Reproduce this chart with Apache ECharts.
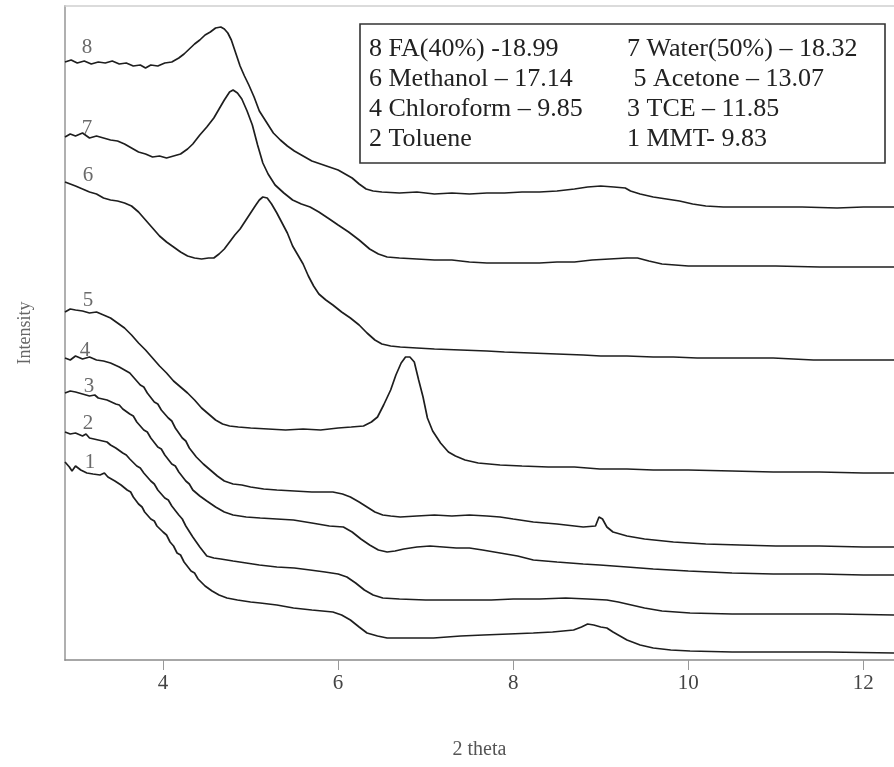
<!DOCTYPE html>
<html>
<head>
<meta charset="utf-8">
<script src="https://cdn.jsdelivr.net/npm/echarts@6/dist/echarts.min.js"></script>
<style>
  html, body { margin: 0; padding: 0; background: #fff; }
  #chart { width: 894px; height: 767px; }
</style>
</head>
<body>
<div id="chart"></div>
<script>
// XRD patterns of MMT treated with different solvents, stacked with vertical offsets.
// Each series: [2θ (deg), intensity (a.u., offset applied)]
const mmt = [[2.88,198],[2.93,193],[2.96,189],[3.0,194],[3.06,190],[3.13,187],[3.2,186],[3.28,185],[3.33,187],[3.37,183],[3.45,179],[3.52,175],[3.59,170],[3.63,168],[3.66,163],[3.72,156],[3.76,153],[3.79,148],[3.86,141],[3.9,139],[3.93,134],[4.0,128],[4.04,125],[4.08,118],[4.12,114],[4.16,107],[4.2,105],[4.24,98],[4.32,89],[4.36,87],[4.4,81],[4.48,74],[4.56,69],[4.64,65],[4.73,62],[4.85,60],[5.0,58],[5.11,57],[5.3,55],[5.49,52],[5.7,50],[5.94,48],[6.04,45],[6.14,40],[6.24,33],[6.33,27],[6.45,24],[6.56,22],[6.8,22],[7.09,22],[7.4,24],[7.66,25],[7.95,26],[8.23,27],[8.45,28],[8.69,30],[8.78,33],[8.85,36],[8.92,35],[9.0,33],[9.07,32],[9.14,28],[9.22,24],[9.3,20],[9.45,15],[9.6,12],[9.8,10],[10.02,9],[10.5,8],[10.97,8],[11.6,8],[12.35,7]];

const toluene = [[2.88,228],[2.94,226],[3.0,227],[3.08,224],[3.12,226],[3.16,222],[3.26,220],[3.36,218],[3.4,215],[3.46,212],[3.54,207],[3.58,205],[3.62,201],[3.7,194],[3.74,192],[3.78,187],[3.86,179],[3.9,176],[3.94,170],[4.02,162],[4.06,160],[4.1,154],[4.18,145],[4.22,141],[4.26,134],[4.34,123],[4.42,113],[4.5,104],[4.58,102],[4.66,101],[4.8,99],[4.95,97],[5.1,95],[5.3,93],[5.5,92],[5.68,90],[5.85,88],[6.0,86],[6.1,83],[6.2,77],[6.3,70],[6.4,65],[6.51,62],[6.7,61],[7.0,60],[7.25,60],[7.47,60],[7.75,60],[8.0,61],[8.3,61],[8.6,62],[8.85,61],[9.07,60],[9.2,58],[9.35,55],[9.5,52],[9.7,49],[10.02,47],[10.5,46],[11.17,46],[11.7,46],[12.35,45]];

const tce = [[2.88,267],[2.94,269],[3.0,268],[3.08,266],[3.16,264],[3.22,265],[3.26,262],[3.36,260],[3.46,256],[3.5,255],[3.54,251],[3.62,246],[3.66,244],[3.7,238],[3.78,230],[3.82,228],[3.86,222],[3.94,213],[3.98,211],[4.02,205],[4.1,196],[4.14,194],[4.18,188],[4.26,179],[4.3,176],[4.34,170],[4.42,164],[4.5,159],[4.6,153],[4.7,148],[4.8,145],[4.95,143],[5.11,142],[5.3,141],[5.49,140],[5.7,137],[5.9,134],[6.06,133],[6.16,128],[6.26,121],[6.36,115],[6.46,110],[6.56,108],[6.65,109],[6.75,111],[6.9,113],[7.05,114],[7.2,113],[7.35,112],[7.5,112],[7.65,110],[7.85,107],[8.05,104],[8.23,100],[8.5,98],[8.8,96],[8.99,95],[9.3,93],[9.6,91],[10.0,89],[10.5,87],[10.97,86],[11.5,86],[12.0,85],[12.35,85]];

const chloroform = [[2.88,302],[2.94,300],[3.0,304],[3.08,301],[3.16,303],[3.24,300],[3.32,299],[3.4,297],[3.5,293],[3.58,289],[3.62,287],[3.66,283],[3.74,275],[3.78,273],[3.82,267],[3.9,258],[3.94,256],[3.98,250],[4.06,242],[4.1,239],[4.14,232],[4.22,222],[4.26,219],[4.3,212],[4.38,203],[4.46,196],[4.54,190],[4.62,184],[4.7,179],[4.8,176],[4.9,175],[5.0,173],[5.15,171],[5.3,170],[5.5,169],[5.7,168],[5.94,168],[6.05,166],[6.14,163],[6.24,158],[6.33,153],[6.42,148],[6.51,145],[6.6,144],[6.71,143],[6.9,144],[7.1,145],[7.3,144],[7.5,145],[7.7,144],[7.85,143],[8.0,141],[8.23,138],[8.5,136],[8.8,133],[8.94,134],[8.98,143],[9.02,141],[9.07,133],[9.14,128],[9.3,124],[9.5,121],[9.83,118],[10.2,116],[10.59,115],[11.0,114],[11.5,114],[12.0,113],[12.35,113]];

const acetone = [[2.88,348],[2.94,351],[3.0,350],[3.08,349],[3.16,347],[3.24,348],[3.32,345],[3.4,342],[3.48,337],[3.56,332],[3.64,325],[3.72,317],[3.8,310],[3.88,302],[3.96,294],[4.04,287],[4.12,279],[4.2,273],[4.28,267],[4.36,260],[4.44,252],[4.52,246],[4.6,240],[4.68,236],[4.76,234],[4.86,233],[5.0,232],[5.2,231],[5.4,230],[5.6,231],[5.8,230],[6.0,232],[6.15,233],[6.29,234],[6.38,238],[6.45,243],[6.52,255],[6.6,270],[6.66,285],[6.72,297],[6.77,303],[6.82,303],[6.87,298],[6.92,280],[6.97,263],[7.02,242],[7.08,229],[7.17,217],[7.26,208],[7.34,204],[7.45,200],[7.6,197],[7.85,195],[8.1,194],[8.4,193],[8.7,193],[8.99,191],[9.3,191],[9.6,190],[10.0,190],[10.5,189],[10.97,188],[11.5,188],[12.0,187],[12.35,187]];

const methanol = [[2.88,478],[2.94,476],[3.0,474],[3.08,471],[3.16,468],[3.24,466],[3.32,462],[3.4,460],[3.48,459],[3.56,457],[3.64,454],[3.72,448],[3.8,440],[3.88,432],[3.96,424],[4.04,418],[4.12,413],[4.2,408],[4.28,404],[4.36,402],[4.44,401],[4.52,402],[4.58,402],[4.64,406],[4.7,411],[4.76,418],[4.82,425],[4.88,431],[4.94,439],[5.0,447],[5.06,455],[5.1,460],[5.14,463],[5.19,462],[5.24,456],[5.3,447],[5.36,437],[5.42,427],[5.48,414],[5.54,405],[5.6,396],[5.66,384],[5.72,374],[5.78,366],[5.86,360],[5.94,355],[6.04,348],[6.14,342],[6.24,335],[6.33,327],[6.42,320],[6.5,316],[6.6,314],[6.71,313],[6.9,312],[7.1,311],[7.4,310],[7.7,309],[7.9,308],[8.2,307],[8.5,306],[8.8,305],[9.0,304],[9.3,304],[9.6,303],[9.83,303],[10.1,302],[10.5,302],[10.97,302],[11.2,301],[11.43,300],[11.8,300],[12.35,300]];

const water50 = [[2.88,523],[2.94,526],[3.0,524],[3.08,527],[3.16,522],[3.24,524],[3.32,522],[3.4,520],[3.48,519],[3.56,516],[3.64,512],[3.72,508],[3.8,506],[3.88,503],[3.96,504],[4.04,502],[4.12,504],[4.2,506],[4.28,511],[4.34,516],[4.42,525],[4.5,533],[4.58,542],[4.64,551],[4.7,560],[4.76,568],[4.8,570],[4.85,567],[4.9,561],[4.96,549],[5.02,535],[5.08,515],[5.14,497],[5.2,486],[5.28,475],[5.38,467],[5.48,460],[5.58,456],[5.68,453],[5.78,448],[5.9,441],[6.0,435],[6.12,428],[6.24,420],[6.36,411],[6.46,406],[6.56,403],[6.7,402],[6.9,401],[7.1,400],[7.3,400],[7.5,398],[7.7,397],[7.9,397],[8.1,397],[8.3,397],[8.5,398],[8.7,398],[8.9,400],[9.1,401],[9.3,402],[9.42,402],[9.55,399],[9.7,396],[9.85,395],[10.0,394],[10.3,394],[10.6,394],[11.0,394],[11.5,393],[12.0,393],[12.35,393]];

const fa40 = [[2.88,598],[2.95,600],[3.02,597],[3.1,599],[3.18,596],[3.26,598],[3.34,597],[3.42,599],[3.5,596],[3.58,597],[3.66,594],[3.74,595],[3.8,592],[3.86,595],[3.94,594],[4.02,597],[4.1,598],[4.18,602],[4.24,606],[4.3,611],[4.36,616],[4.42,620],[4.48,625],[4.54,628],[4.6,632],[4.66,633],[4.7,631],[4.74,627],[4.78,620],[4.83,607],[4.88,594],[4.93,584],[4.98,575],[5.04,563],[5.1,549],[5.18,538],[5.26,527],[5.34,520],[5.42,514],[5.5,509],[5.6,504],[5.7,499],[5.8,496],[5.9,493],[6.0,490],[6.08,486],[6.16,482],[6.24,476],[6.32,471],[6.4,469],[6.5,468],[6.7,467],[6.9,468],[7.1,466],[7.3,467],[7.5,466],[7.7,467],[7.9,467],[8.1,468],[8.3,468],[8.5,469],[8.7,471],[8.85,473],[9.0,474],[9.15,473],[9.28,472],[9.34,469],[9.45,466],[9.6,463],[9.75,461],[9.9,459],[10.05,456],[10.2,454],[10.4,453],[10.7,453],[11.0,453],[11.3,453],[11.7,452],[12.0,453],[12.35,453]];

const seriesList = [mmt, toluene, tce, chloroform, acetone, methanol, water50, fa40];
const curveNumbers = ['1', '2', '3', '4', '5', '6', '7', '8'];

const xTicks = [4, 6, 8, 10, 12];
const xMin = 2.88, xMax = 12.35;
const yMin = 0, yMax = 654;

const legendLeft = ['8 FA(40%) -18.99', '6 Methanol \u2013 17.14', '4 Chloroform \u2013 9.85', '2 Toluene'];
const legendRight = ['7 Water(50%) \u2013 18.32', ' 5 Acetone \u2013 13.07', '3 TCE \u2013 11.85', '1 MMT- 9.83'];

const serif = '"Liberation Serif", "DejaVu Serif", serif';

const chart = echarts.init(document.getElementById('chart'), null, { renderer: 'canvas' });

// curve number labels, placed just above the start of each trace
const numberPos = [[90, 462], [88, 423], [89, 386], [85, 350], [88, 300], [88, 175], [87, 128], [87, 47]];

const graphics = [];
numberPos.forEach((p, i) => {
  graphics.push({
    type: 'text', x: p[0], y: p[1],
    style: { text: curveNumbers[i], font: '21px ' + serif, fill: '#6a6a6a', align: 'center', verticalAlign: 'middle' },
    z: 10
  });
});

// legend box
graphics.push({
  type: 'rect', shape: { x: 360, y: 24, width: 525, height: 139 },
  style: { fill: '#fff', stroke: '#333', lineWidth: 1.6 }, z: 11
});
const rowY = [49, 79, 109, 139];
legendLeft.forEach((t, i) => {
  graphics.push({ type: 'text', x: 369, y: rowY[i],
    style: { text: t, font: '26px ' + serif, fill: '#222', verticalAlign: 'middle' }, z: 12 });
});
legendRight.forEach((t, i) => {
  graphics.push({ type: 'text', x: 627, y: rowY[i],
    style: { text: t, font: '26px ' + serif, fill: '#222', verticalAlign: 'middle' }, z: 12 });
});

chart.setOption({
  animation: false,
  backgroundColor: '#fff',
  grid: { left: 65, right: 0, top: 6, bottom: 107, containLabel: false },
  xAxis: [{
    type: 'value', min: xMin, max: xMax,
    name: '2 theta', nameLocation: 'middle', nameGap: 80,
    nameTextStyle: { fontFamily: serif, fontSize: 20, color: '#555' },
    axisLine: { show: true, lineStyle: { color: '#8a8a8a', width: 1.5 } },
    axisTick: { show: true, customValues: xTicks, length: 10, inside: false, lineStyle: { color: '#999', width: 1 } },
    axisLabel: { customValues: xTicks, margin: 13, fontFamily: serif, fontSize: 21, color: '#444' },
    splitLine: { show: false }
  }, {
    type: 'value', position: 'top', min: xMin, max: xMax,
    axisLine: { show: true, onZero: false, lineStyle: { color: '#d0d0d0', width: 1.5 } },
    axisTick: { show: false }, axisLabel: { show: false }, splitLine: { show: false }
  }],
  yAxis: {
    type: 'value', min: yMin, max: yMax,
    name: 'Intensity', nameLocation: 'middle', nameGap: 31, nameRotate: 90,
    nameTextStyle: { fontFamily: serif, fontSize: 18, color: '#666' },
    axisLine: { show: true, lineStyle: { color: '#b0b0b0', width: 2 } },
    axisTick: { show: false }, axisLabel: { show: false }, splitLine: { show: false }
  },
  series: seriesList.map((d, i) => ({
    type: 'line', name: curveNumbers[i], data: d,
    xAxisIndex: 0, showSymbol: false, smooth: false,
    lineStyle: { color: '#1e1e1e', width: 1.7 },
    z: 3
  })),
  graphic: graphics
});
</script>
</body>
</html>
